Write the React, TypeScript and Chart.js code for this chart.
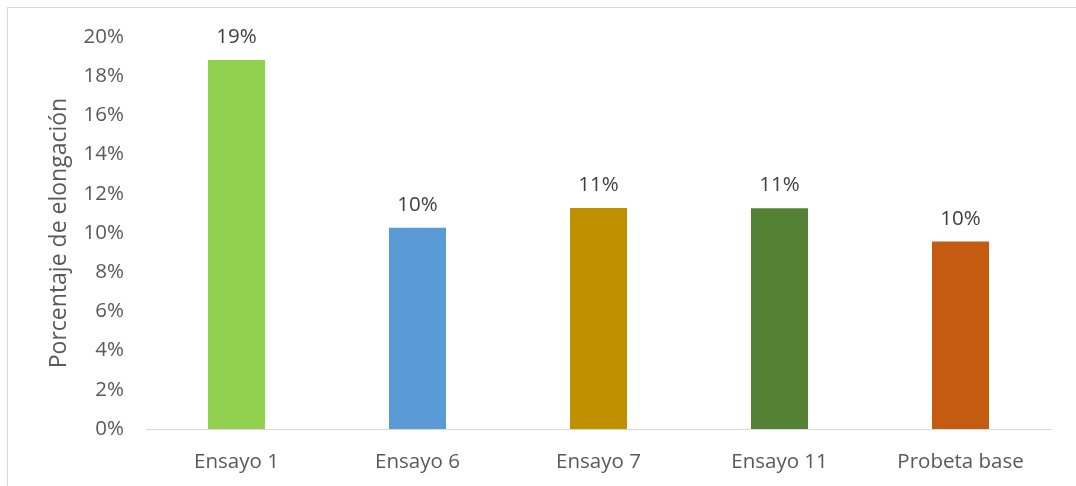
import React, { useEffect, useRef } from "react";
import { Chart, registerables } from "chart.js";

Chart.register(...registerables);

const categories = ["Ensayo 1", "Ensayo 6", "Ensayo 7", "Ensayo 11", "Probeta base"];
const elongation = [0.1883, 0.1027, 0.1128, 0.1126, 0.0956];
const barColors = ["#92D050", "#5B9BD5", "#BF9000", "#548235", "#C55A11"];
const yTitle = "Porcentaje de elongación";
const yMin = 0;
const yMax = 0.2;
const yStep = 0.02;

const FONT = "'Open Sans', sans-serif";

const dataLabelPlugin = {
  id: "dataLabels",
  afterDatasetsDraw(chart: any) {
    const { ctx } = chart;
    ctx.save();
    ctx.font = `20.5px ${FONT}`;
    ctx.fillStyle = "#404040";
    ctx.textAlign = "center";
    ctx.textBaseline = "alphabetic";
    chart.data.datasets.forEach((ds: any, di: number) => {
      const meta = chart.getDatasetMeta(di);
      meta.data.forEach((bar: any, i: number) => {
        const v = ds.data[i];
        ctx.fillText(Math.round(v * 100) + "%", bar.x, bar.y - 17);
      });
    });
    ctx.restore();
  },
};

export default function App() {
  const ref = useRef<HTMLCanvasElement>(null);

  useEffect(() => {
    if (!ref.current) return;
    const chart = new Chart(ref.current, {
      type: "bar",
      data: {
        labels: categories,
        datasets: [
          {
            data: elongation,
            backgroundColor: barColors,
            borderWidth: 0,
            barPercentage: 0.315,
            categoryPercentage: 1,
          },
        ],
      },
      options: {
        animation: false,
        responsive: true,
        maintainAspectRatio: false,
        layout: { padding: { top: 29, right: 25, left: 0, bottom: 0 } },
        plugins: {
          legend: { display: false },
          tooltip: { enabled: false },
        },
        scales: {
          x: {
            grid: { display: false, drawTicks: false },
            border: { display: true, color: "#D9D9D9", width: 1 },
            ticks: {
              color: "#595959",
              font: { family: FONT, size: 20.5 },
              padding: 21,
              maxRotation: 0,
              autoSkip: false,
            },
            afterFit: (s: any) => {
              s.height = 57;
              s.paddingLeft = 0;
              s.paddingRight = 0;
            },
          },
          y: {
            min: yMin,
            max: yMax,
            grid: { display: false, drawTicks: false },
            border: { display: false },
            ticks: {
              stepSize: yStep,
              color: "#595959",
              font: { family: FONT, size: 20.5 },
              padding: 22,
              callback: (v: any) => Math.round(Number(v) * 100) + "%",
            },
            title: {
              display: true,
              text: yTitle,
              color: "#595959",
              font: { family: FONT, size: 23 },
              padding: { top: 38, bottom: 0 },
            },
            afterFit: (s: any) => {
              s.width = 138;
              s.paddingTop = 0;
              s.paddingBottom = 0;
            },
          },
        },
      },
      plugins: [dataLabelPlugin],
    });
    return () => chart.destroy();
  }, []);

  return (
    <div
      style={{
        position: "fixed",
        left: 7,
        top: 7,
        width: 1069,
        height: 479,
        boxSizing: "border-box",
        borderTop: "1px solid #D9D9D9",
        borderLeft: "1px solid #D9D9D9",
        background: "#FFFFFF",
      }}
    >
      <div style={{ position: "relative", width: 1068, height: 478 }}>
        <canvas ref={ref} />
      </div>
    </div>
  );
}
